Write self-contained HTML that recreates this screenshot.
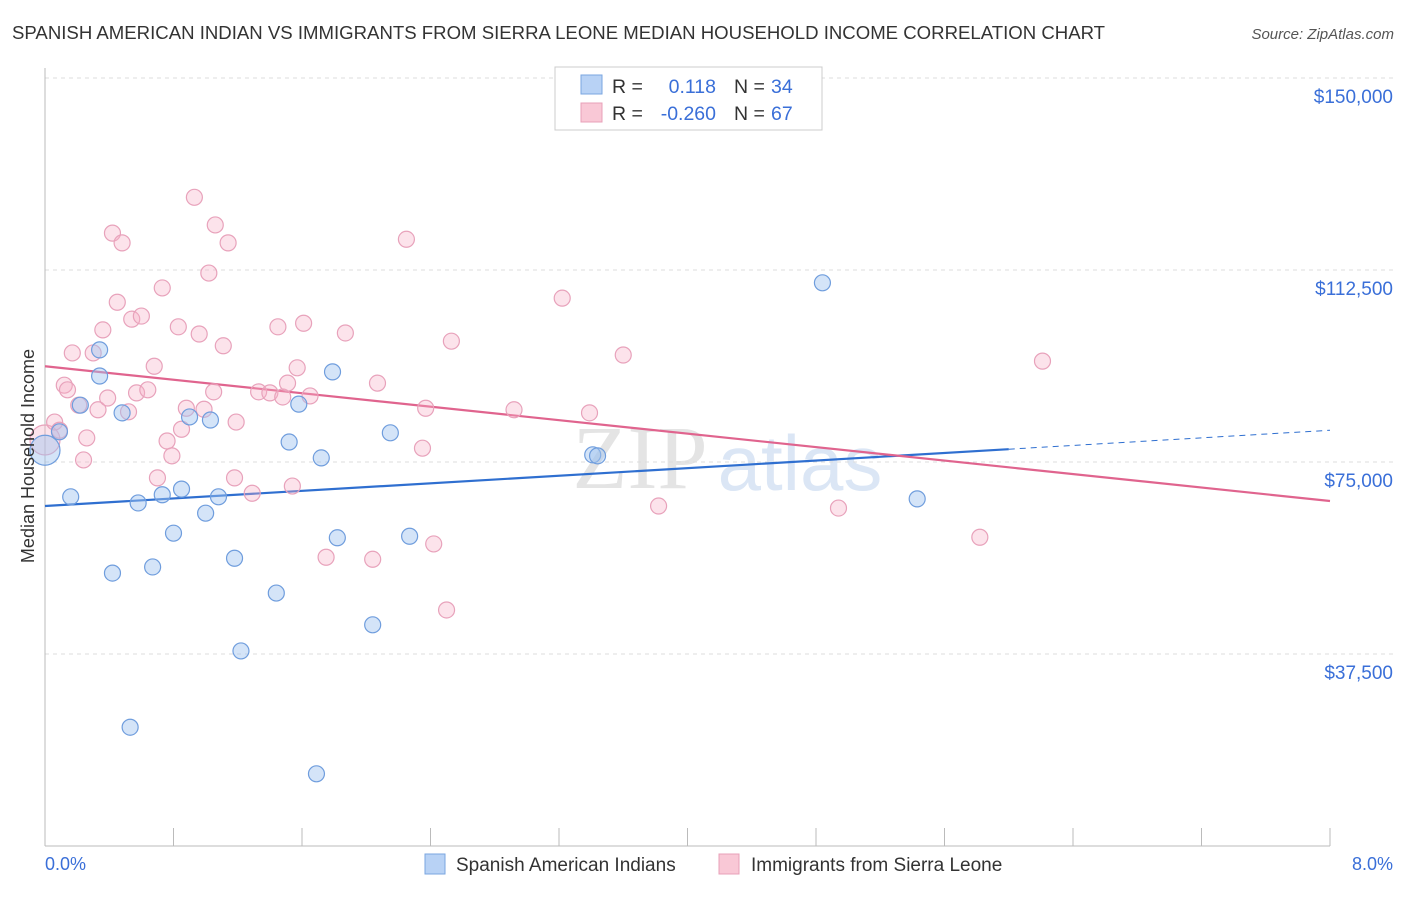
<!DOCTYPE html>
<html><head><meta charset="utf-8"><style>
body{margin:0;background:#fff;font-family:"Liberation Sans",sans-serif;}
</style></head><body>
<svg id="c" width="1406" height="892" xmlns="http://www.w3.org/2000/svg" style="font-family:'Liberation Sans',sans-serif">
<text x="12" y="39" font-size="18.6" fill="#333">SPANISH AMERICAN INDIAN VS IMMIGRANTS FROM SIERRA LEONE MEDIAN HOUSEHOLD INCOME CORRELATION CHART</text>
<text x="1394" y="39" font-size="15" fill="#555" text-anchor="end" font-style="italic">Source: ZipAtlas.com</text>
<text x="640" y="488" font-size="90" fill="#e4e4e4" font-family="Liberation Serif" text-anchor="middle">ZIP</text>
<text x="800" y="490" font-size="78" fill="#dbe6f5" text-anchor="middle">atlas</text>
<g id="grid"></g><g id="axes"></g><g id="trend"></g><g id="pts"></g>
<text x="34" y="456" font-size="18" fill="#333" text-anchor="middle" transform="rotate(-90 34 456)">Median Household Income</text>
<text x="45" y="870" font-size="18" fill="#3a6fd8">0.0%</text>
<text x="1393" y="870" font-size="18" fill="#3a6fd8" text-anchor="end">8.0%</text>
<g>
<rect x="555" y="67" width="267" height="63" fill="#fff" stroke="#ccc"/>
<rect x="581" y="75" width="21" height="19" fill="#b8d2f5" stroke="#7aa6e0"/>
<rect x="581" y="103" width="21" height="19" fill="#f9c8d6" stroke="#e8a0b8"/>
<text x="612" y="93" font-size="19.5" fill="#333">R = </text><text x="716" y="93" font-size="19.5" fill="#3a6fd8" text-anchor="end">0.118</text>
<text x="734" y="93" font-size="19.5" fill="#333">N = </text><text x="771" y="93" font-size="19.5" fill="#3a6fd8">34</text>
<text x="612" y="120" font-size="19.5" fill="#333">R = </text><text x="716" y="120" font-size="19.5" fill="#3a6fd8" text-anchor="end">-0.260</text>
<text x="734" y="120" font-size="19.5" fill="#333">N = </text><text x="771" y="120" font-size="19.5" fill="#3a6fd8">67</text>
</g>
<g>
<rect x="425" y="854" width="20" height="20" fill="#b8d2f5" stroke="#7aa6e0"/>
<text x="456" y="871" font-size="19" fill="#333">Spanish American Indians</text>
<rect x="719" y="854" width="20" height="20" fill="#f9c8d6" stroke="#e8a0b8"/>
<text x="751" y="871" font-size="19" fill="#333">Immigrants from Sierra Leone</text>
</g>
</svg>
<script>
const yTicks=[37500,75000,112500,150000];
const yTickLabels=["$37,500","$75,000","$112,500","$150,000"];
const xTicks=[0,0.8,1.6,2.4,3.2,4.0,4.8,5.6,6.4,7.2,8.0];
const blueX=[0,0.09,0.16,0.34,0.34,0.22,0.42,0.48,0.53,0.58,0.67,0.73,0.80,0.85,0.90,1.00,1.03,1.08,1.18,1.22,1.44,1.52,1.58,1.69,1.72,1.79,1.82,2.04,2.15,2.27,3.41,3.44,4.84,5.43];
const blueY=[77.3,80.9,68.2,96.9,91.8,86.1,53.3,84.6,23.2,67.0,54.5,68.6,61.1,69.7,83.8,65.0,83.2,68.2,56.2,38.1,49.4,78.9,86.3,14.1,75.8,92.6,60.2,43.2,80.7,60.5,76.4,76.2,110.0,67.8];
const pinkX=[0,0.06,0.09,0.17,0.12,0.14,0.21,0.26,0.24,0.30,0.36,0.33,0.39,0.42,0.45,0.48,0.52,0.54,0.57,0.60,0.64,0.68,0.70,0.73,0.76,0.79,0.83,0.85,0.88,0.93,0.96,0.99,1.02,1.05,1.06,1.11,1.14,1.18,1.19,1.29,1.33,1.40,1.45,1.48,1.51,1.54,1.57,1.61,1.65,1.75,1.87,2.04,2.07,2.25,2.35,2.37,2.42,2.50,2.53,2.92,3.22,3.39,3.60,3.82,4.94,5.82,6.21];
const pinkY=[79.3,82.8,81.2,96.3,90.0,89.1,86.1,79.7,75.4,96.3,100.8,85.2,87.5,119.7,106.2,117.8,84.8,102.9,88.5,103.5,89.1,93.7,71.9,109.0,79.1,76.2,101.4,81.4,85.5,126.7,100.0,85.3,111.9,88.7,121.3,97.7,117.8,71.9,82.8,68.9,88.7,88.5,101.4,87.7,90.4,70.3,93.4,102.1,87.9,56.4,100.2,56.0,90.4,118.5,77.7,85.5,59.0,46.1,98.6,85.2,107.0,84.6,95.9,66.4,66.0,60.3,94.7];
const blueTrend=[66.4,1.85]; // intercept (k$), slope per %
const pinkTrend=[93.7,-3.29];
const NS="http://www.w3.org/2000/svg";
const X=v=>45+v*160.625, Y=v=>846-v/37500*192, Yk=v=>Y(v*1000);
function mk(t,a,p){const e=document.createElementNS(NS,t);for(const k in a)e.setAttribute(k,a[k]);document.getElementById(p).appendChild(e);return e;}
yTicks.forEach((t,i)=>{
 const l=mk('line',{x1:45,x2:1393,y1:Y(t),y2:Y(t),stroke:'#ddd','stroke-dasharray':'4,4'},'grid');
 
 
 const tx=mk('text',{x:1393,y:Y(t)+25,'font-size':19,fill:'#3a6fd8','text-anchor':'end'},'grid');
 tx.textContent=yTickLabels[i];
 
 
});
const ax=mk('line',{x1:45,x2:1330,y1:846,y2:846,stroke:'#bbb'},'axes');


const ay=mk('line',{x1:45,x2:45,y1:68,y2:846,stroke:'#bbb'},'axes');


xTicks.forEach(t=>{const l=mk('line',{x1:X(t),x2:X(t),y1:828,y2:846,stroke:'#bbb'},'axes');
 
 });
function pts(xs,ys,fill,stroke,name){xs.forEach((x,i)=>{const c=mk('circle',{cx:X(x),cy:Yk(ys[i]),r:i==0?15:8,fill:fill,stroke:stroke,'stroke-width':1.2},'pts');
 
 });}
pts(pinkX,pinkY,'rgba(245,175,198,0.35)','#e8a2bb','pink-point');
pts(blueX,blueY,'rgba(160,196,240,0.45)','#6f9ddd','blue-point');
function tl(tr,x0,x1,col,dash,name){const l=mk('line',{x1:X(x0),y1:Yk(tr[0]+tr[1]*x0),x2:X(x1),y2:Yk(tr[0]+tr[1]*x1),stroke:col,'stroke-width':dash?1:2.2,'stroke-dasharray':dash?'6,5':'none'},'trend');
 
 }
tl(blueTrend,0,6.0,'#2f6fd0',false,'blue-trend-line');
tl(blueTrend,6.0,8.0,'#2f6fd0',true,'blue-trend-extension');
tl(pinkTrend,0,8.0,'#e0648e',false,'pink-trend-line');
</script>
</body></html>
